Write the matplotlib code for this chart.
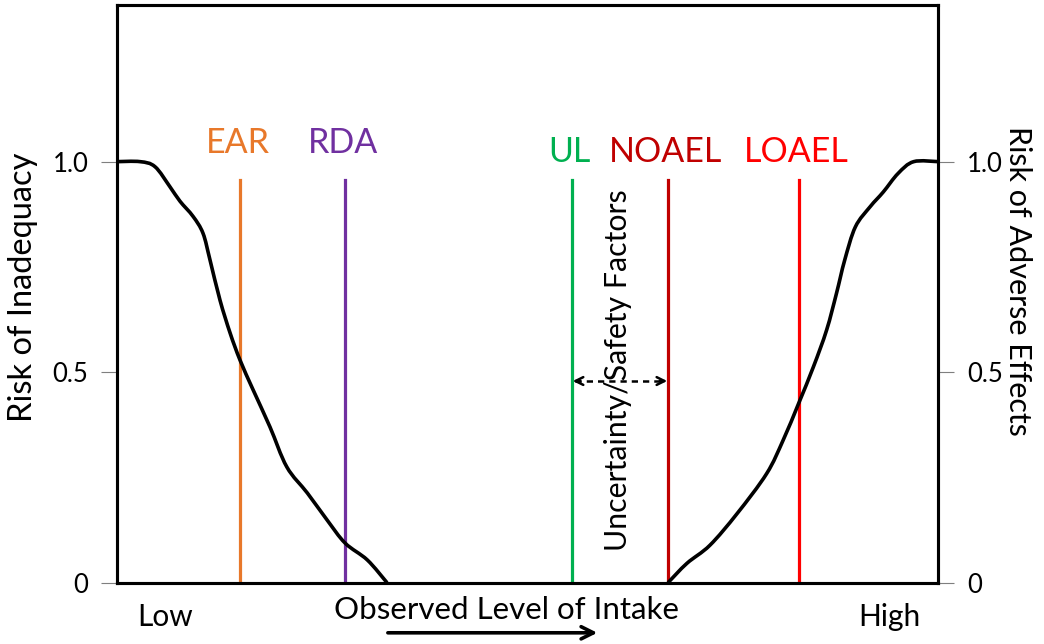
import matplotlib
matplotlib.use("Agg")
import matplotlib.pyplot as plt
import numpy as np
from matplotlib.path import Path
from matplotlib.patches import PathPatch

plt.rcParams['font.family'] = ['Lato', 'DejaVu Sans']

# Risk of inadequacy (falls as intake rises)
low_x = [0, 2.84, 4.66, 6.49, 7.70, 9.29, 10.5, 11.36, 12.57, 13.8, 15.0,
         16.6, 18.65, 20.7, 23.2, 25.6, 27.8, 30.5, 32.9]
low_y = [1.0, 1.0, 0.988, 0.94, 0.906, 0.87, 0.83, 0.766, 0.671, 0.593, 0.529,
         0.458, 0.37, 0.275, 0.213, 0.149, 0.094, 0.054, 0.0]

# Risk of adverse effects (rises as intake rises)
high_x = [67.1, 69.4, 72.2, 75.5, 79.1, 81.1, 83.0, 84.8, 86.4, 87.6, 88.6,
          89.9, 91.7, 93.3, 95.1, 97.0, 100]
high_y = [0.0, 0.046, 0.089, 0.164, 0.259, 0.338, 0.426, 0.513, 0.6, 0.687,
          0.766, 0.845, 0.893, 0.928, 0.972, 1.0, 1.0]

# Reference intake levels
ref_names = ['EAR', 'RDA', 'UL', 'NOAEL', 'LOAEL']
ref_x = [15.0, 27.8, 55.4, 67.1, 83.0]
ref_colors = ['#E8782A', '#7030A0', '#00B050', '#C00000', '#FF0000']
ref_label_y = [1.02, 1.02, 1.0, 1.0, 1.0]
line_top = 0.957

yticks = [0, 0.5, 1.0]
ytick_labels = ['0', '0.5', '1.0']


def smooth_path(xs, ys):
    """Bezier path through the points (Catmull-Rom style tangents)."""
    pts = np.column_stack([xs, ys]).astype(float)
    n = len(pts)
    verts = [pts[0]]
    codes = [Path.MOVETO]
    for i in range(n - 1):
        p0 = pts[max(i - 1, 0)]
        p1 = pts[i]
        p2 = pts[i + 1]
        p3 = pts[min(i + 2, n - 1)]
        c1 = p1 + (p2 - p0) / 6.0
        c2 = p2 - (p3 - p1) / 6.0
        verts += [c1, c2, p2]
        codes += [Path.CURVE4] * 3
    return Path(verts, codes)


fig = plt.figure(figsize=(10.44, 6.44), dpi=100)
ax = fig.add_axes([0.1118, 0.0952, 0.7870, 0.8970])
ax.set_xlim(0, 100)
ax.set_ylim(0, 1.372)

for xs, ys in [(low_x, low_y), (high_x, high_y)]:
    ax.add_patch(PathPatch(smooth_path(xs, ys), facecolor='none',
                           edgecolor='black', lw=2.6, joinstyle='round',
                           zorder=3))

for name, x, c, ly in zip(ref_names, ref_x, ref_colors, ref_label_y):
    ax.plot([x, x], [0, line_top], color=c, lw=2.3, zorder=2)
    ax.text(x - 0.3, ly, name, color=c, fontsize=24.5, ha='center',
            va='baseline')

# Gap between UL and NOAEL
ul_x, noael_x = ref_x[2], ref_x[3]
arrow_y = 0.479
ax.plot([ul_x + 0.4, noael_x - 0.4], [arrow_y, arrow_y], color='black',
        lw=1.8, ls=(0, (2.5, 2.0)))
for start, end in [(ul_x + 1.0, ul_x + 0.1), (noael_x - 1.0, noael_x - 0.1)]:
    ax.annotate('', xy=(end, arrow_y), xytext=(start, arrow_y),
                arrowprops=dict(arrowstyle='->', lw=1.8, color='black',
                                mutation_scale=14, shrinkA=0, shrinkB=0))
ax.text((ul_x + noael_x) / 2 - 0.3, 0.505, 'Uncertainty/Safety Factors',
        rotation=90, fontsize=21.8, ha='center', va='center')

for s in ax.spines.values():
    s.set_linewidth(2.2)

ax.set_xticks([])
ax.set_yticks(yticks)
ax.set_yticklabels(ytick_labels)
ax.tick_params(axis='y', direction='out', length=11.5, width=0.8,
               color='#7f7f7f', labelsize=18.5, pad=9)
ax.set_ylabel('Risk of Inadequacy', fontsize=23.5, va='center')
ax.yaxis.set_label_coords(-0.114, 0.511)

ax2 = ax.twinx()
ax2.set_ylim(ax.get_ylim())
ax2.set_yticks(yticks)
ax2.set_yticklabels(ytick_labels)
ax2.tick_params(axis='y', direction='out', length=11.5, width=0.8,
                color='#7f7f7f', labelsize=18.5, pad=9)
ax2.set_ylabel('Risk of Adverse Effects', fontsize=22, rotation=270,
               va='center')
ax2.yaxis.set_label_coords(1.097, 0.523)
for s in ax2.spines.values():
    s.set_linewidth(2.2)

# Intake axis captions
ax.text(5.9, -0.082, 'Low', fontsize=21.5, ha='center', va='center',
        clip_on=False)
ax.text(94.0, -0.082, 'High', fontsize=21.5, ha='center', va='center',
        clip_on=False)
ax.text(47.4, -0.065, 'Observed Level of Intake', fontsize=22.5,
        ha='center', va='center', clip_on=False)
ax.annotate('', xy=(58.5, -0.119), xytext=(33.0, -0.119),
            xycoords='data', annotation_clip=False,
            arrowprops=dict(arrowstyle='->', lw=2.6, color='black',
                            mutation_scale=22, shrinkA=0, shrinkB=0))

fig.savefig('out.png', dpi=100, facecolor='white')
